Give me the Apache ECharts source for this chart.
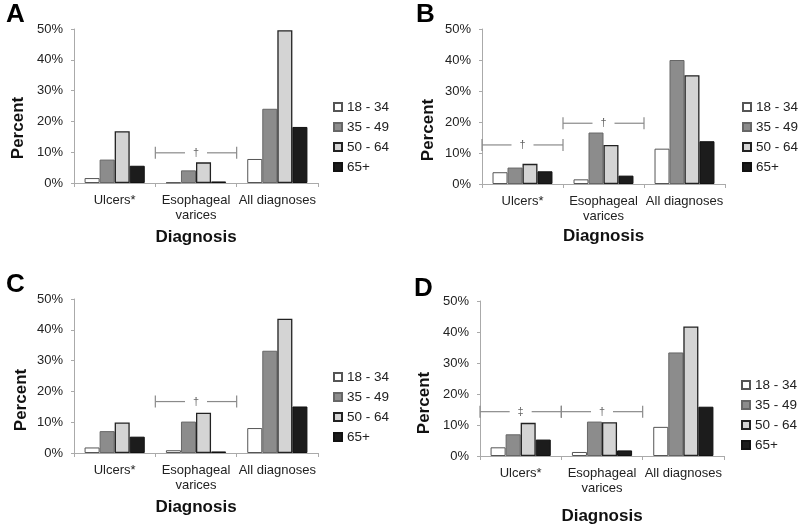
<!DOCTYPE html>
<html>
<head>
<meta charset="utf-8">
<script src="https://cdn.jsdelivr.net/npm/echarts@6/dist/echarts.min.js"></script>
<style>
html,body{margin:0;padding:0;background:#fff;}
#chart{width:800px;height:528px;}
</style>
</head>
<body>
<div id="chart"></div>
<script>
// ---- data ----
const categories = ['Ulcers*', 'Esophageal\nvarices', 'All diagnoses'];
const ageGroups = ['18 - 34', '35 - 49', '50 - 64', '65+'];
const yTicks = [0, 10, 20, 30, 40, 50];
const panelLabels = ['A', 'B', 'C', 'D'];

// values per age group: [Ulcers*, Esophageal varices, All diagnoses]
const panelA = [[1.6, 0.2, 7.8], [7.6, 4.1, 24.1], [16.8, 6.7, 49.6], [5.6, 0.5, 18.2]];
const panelB = [[3.8, 1.5, 11.4], [5.3, 16.6, 40.0], [6.5, 12.6, 35.1], [4.1, 2.7, 13.8]];
const panelC = [[1.8, 0.9, 8.1], [7.1, 10.2, 33.2], [9.9, 13.1, 43.6], [5.3, 0.5, 15.1]];
const panelD = [[2.8, 1.3, 9.4], [7.0, 11.1, 33.4], [10.7, 10.9, 41.8], [5.3, 1.8, 15.9]];

// significance brackets: [category index, height (%), symbol]
const bracketsA = [[1, 9.8, '†']];
const bracketsB = [[0, 12.6, '†'], [1, 19.6, '†']];
const bracketsC = [[1, 16.7, '†']];
const bracketsD = [[0, 14.3, '‡'], [1, 14.3, '†']];

// ---- layout / style ----
const panels = [panelA, panelB, panelC, panelD];
const brackets = [bracketsA, bracketsB, bracketsC, bracketsD];
const grids = [
  {left: 74, top: 29, width: 244, height: 154},
  {left: 482, top: 29, width: 243, height: 155},
  {left: 74, top: 299, width: 244, height: 154},
  {left: 480, top: 301, width: 244, height: 155}
];
const nameGaps = [46, 44, 46, 52];
const legendPos = [{left: 333, top: 100}, {left: 742, top: 100}, {left: 333, top: 370}, {left: 741, top: 378}];
const letterPos = [[6, 2], [416, 2], [6, 272], [414, 276]];
const percentPos = [[18, 128], [428, 130], [21, 400], [424, 403]];
const barStyles = [
  {color: '#ffffff', borderColor: '#555', borderWidth: 1},
  {color: '#8c8c8c', borderColor: '#666', borderWidth: 1},
  {color: '#d4d4d4', borderColor: '#222', borderWidth: 1.3},
  {color: '#1c1c1c', borderColor: '#111', borderWidth: 1}
];
const FONT = 'Arial, "Liberation Sans", sans-serif';

const xAxes = [], yAxes = [], series = [], legends = [], graphics = [];
grids.forEach((g, p) => {
  xAxes.push({
    type: 'category', gridIndex: p, data: categories,
    name: 'Diagnosis', nameLocation: 'middle', nameGap: nameGaps[p],
    nameTextStyle: {fontFamily: FONT, fontWeight: 'bold', fontSize: 17, color: '#111'},
    axisLine: {lineStyle: {color: '#aaa', width: 1}},
    axisTick: {show: true, length: 4, lineStyle: {color: '#aaa'}},
    axisLabel: {fontFamily: FONT, fontSize: 13, color: '#222', margin: 10, lineHeight: 15, interval: 0}
  });
  yAxes.push({
    type: 'value', gridIndex: p, min: yTicks[0], max: yTicks[yTicks.length - 1], interval: 10,
    axisLine: {show: true, lineStyle: {color: '#aaa', width: 1}},
    axisTick: {show: true, length: 3, lineStyle: {color: '#aaa'}},
    splitLine: {show: false},
    axisLabel: {fontFamily: FONT, fontSize: 13, color: '#222', margin: 11, formatter: '{value}%'}
  });
  ageGroups.forEach((ag, i) => {
    series.push({
      type: 'bar', name: ag, xAxisIndex: p, yAxisIndex: p,
      data: panels[p][i], barGap: '0%', barCategoryGap: '26%',
      itemStyle: barStyles[i], emphasis: {disabled: true}, animation: false
    });
  });
  const br = brackets[p];
  series.push({
    type: 'custom', xAxisIndex: p, yAxisIndex: p, animation: false, silent: true,
    data: br.map(b => [b[0], b[1]]),
    renderItem: function (params, api) {
      const c = api.coord([api.value(0), api.value(1)]);
      const bw = api.size([1, 0])[0];
      const x0 = c[0] - bw / 2, x1 = c[0] + bw / 2, y = c[1];
      const gap = 11, cap = 6;
      const st = {stroke: '#8a8a8a', lineWidth: 1.2};
      return {type: 'group', children: [
        {type: 'line', shape: {x1: x0, y1: y, x2: c[0] - gap, y2: y}, style: st},
        {type: 'line', shape: {x1: c[0] + gap, y1: y, x2: x1, y2: y}, style: st},
        {type: 'line', shape: {x1: x0, y1: y - cap, x2: x0, y2: y + cap}, style: st},
        {type: 'line', shape: {x1: x1, y1: y - cap, x2: x1, y2: y + cap}, style: st},
        {type: 'text', style: {text: br[params.dataIndex][2], x: c[0], y: y, align: 'center', verticalAlign: 'middle', fill: '#666', font: '11px ' + FONT}}
      ]};
    }
  });
  legends.push({
    data: ageGroups, orient: 'vertical', left: legendPos[p].left, top: legendPos[p].top,
    padding: 0, icon: 'rect', itemWidth: 8, itemHeight: 8, itemGap: 6,
    textStyle: {fontFamily: FONT, fontSize: 13.5, color: '#222', lineHeight: 14},
    selectedMode: false
  });
  graphics.push({
    type: 'text', left: letterPos[p][0], top: letterPos[p][1],
    style: {text: panelLabels[p], font: 'bold 26px ' + FONT, fill: '#000'}
  });
  graphics.push({
    type: 'text', x: percentPos[p][0], y: percentPos[p][1], rotation: Math.PI / 2,
    style: {text: 'Percent', font: 'bold 17px ' + FONT, fill: '#111', align: 'center', verticalAlign: 'middle'}
  });
});

const chart = echarts.init(document.getElementById('chart'), null, {renderer: 'canvas'});
chart.setOption({
  backgroundColor: '#ffffff',
  animation: false,
  grid: grids,
  xAxis: xAxes,
  yAxis: yAxes,
  legend: legends,
  series: series,
  graphic: graphics
});
</script>
</body>
</html>
